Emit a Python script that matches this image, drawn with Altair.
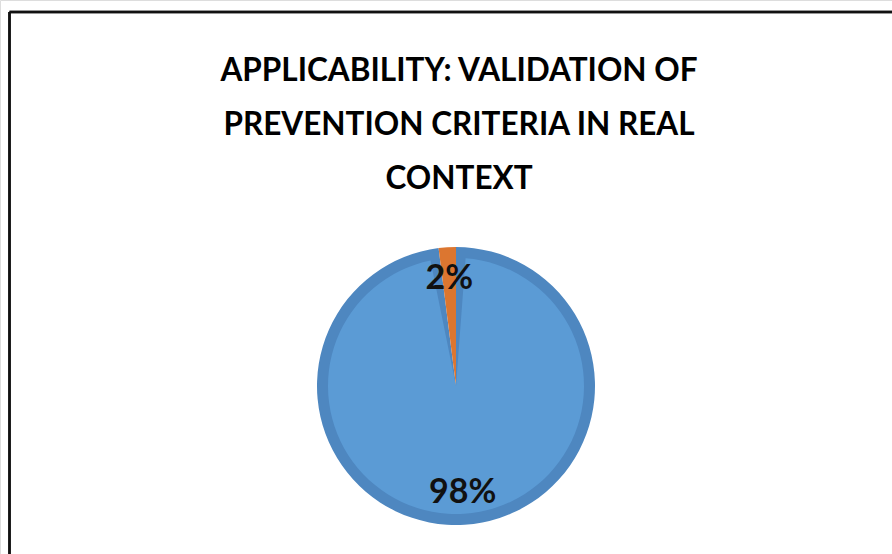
import altair as alt
import pandas as pd

# Survey answers on whether the prevention criteria apply in a real context
categories = ["Applicable", "Not applicable"]
shares = [98, 2]
labels = ["98%", "2%"]
slice_order = [0, 1]

title_lines = ["APPLICABILITY: VALIDATION OF", "PREVENTION CRITERIA IN REAL", "CONTEXT"]

df = pd.DataFrame({
    "category": categories,
    "share": shares,
    "label": labels,
    "slice_order": slice_order,
})

W, H = 892, 554
CX, CY = 456, 386
R = 139
RIM = 11

theta = alt.Theta("share:Q", stack=True)
order = alt.Order("slice_order:Q")

base = alt.Chart(df)

# outer disc in the darker rim shades
rim = base.mark_arc(outerRadius=R).encode(
    theta=theta,
    order=order,
    x=alt.value(CX),
    y=alt.value(CY),
    color=alt.Color(
        "category:N",
        scale=alt.Scale(domain=categories, range=["#4e87c0", "#dc7630"]),
        legend=None,
    ),
)

# lighter face, inset from the rim and from the slice edges
face = base.mark_arc(outerRadius=R - RIM, padAngle=0.15).encode(
    theta=theta,
    order=order,
    x=alt.value(CX),
    y=alt.value(CY),
    color=alt.Color(
        "category:N",
        scale=alt.Scale(domain=categories, range=["#5b9bd5", "#dc7630"]),
        legend=None,
    ),
)

text = base.mark_text(
    radius=107, font="Lato", fontWeight="bold", fontSize=34,
    color="#111111", baseline="middle", align="center",
).encode(
    theta=theta,
    order=order,
    x=alt.value(CX),
    y=alt.value(CY),
    text="label:N",
)

# frame lines along the top and left edges
frame_top = base.mark_rule(color="#111111", strokeWidth=2.5).encode(
    x=alt.value(9.5), x2=alt.value(W), y=alt.value(12)
)
frame_left = base.mark_rule(color="#111111", strokeWidth=2.5).encode(
    x=alt.value(9.5), y=alt.value(12), y2=alt.value(H)
)

chart = (
    alt.layer(frame_top, frame_left, rim, face, text)
    .resolve_scale(color="independent")
    .properties(
        width=W,
        height=H,
        padding=0,
        autosize=alt.AutoSizeParams(type="none"),
        title=alt.TitleParams(
            text=title_lines,
            anchor="middle",
            orient="top",
            offset=-195,
            dx=13,
            font="Lato",
            fontWeight="bold",
            fontSize=31.5,
            lineHeight=54,
            color="#000000",
        ),
    )
    .configure_view(stroke=None)
    .configure(background="#ffffff")
)

chart.save("out.html", embed_options={"renderer": "svg", "actions": False})
